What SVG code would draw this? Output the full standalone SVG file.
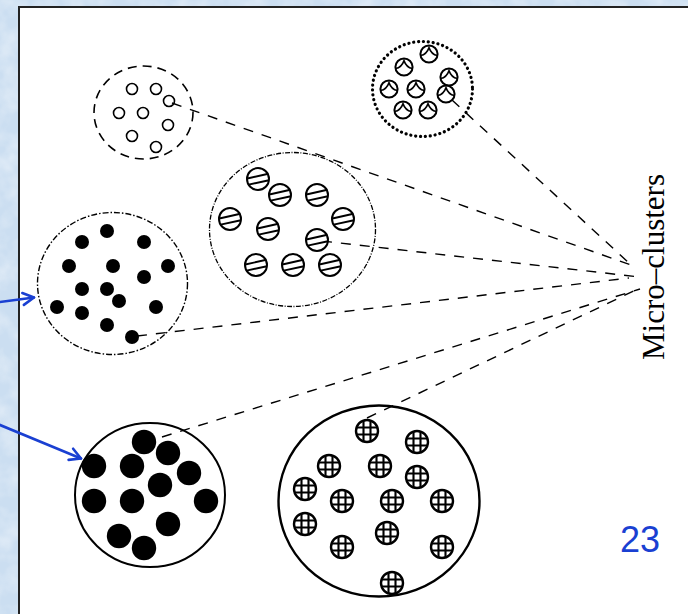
<svg xmlns="http://www.w3.org/2000/svg" width="688" height="614" viewBox="0 0 688 614">
  <style>
    .conn { fill: none; stroke: #000; stroke-width: 1.4; stroke-dasharray: 10 9; }
    .ptr { fill: none; stroke: #1a40d2; stroke-width: 2.6; stroke-linecap: round; }
    .hollow { fill: none; stroke: #000; stroke-width: 1.6; }
    .sym { fill: #fff; stroke: #000; stroke-width: 2; }
    .mark { fill: none; stroke: #000; stroke-width: 1.7; }
    .dot { fill: #000; }
    .label { font-family: "Liberation Serif", "Times New Roman", serif; font-size: 31px; fill: #000; }
    .page { font-family: "Liberation Sans", Arial, sans-serif; font-size: 36px; fill: #1a40d2; }
  </style>
  <defs>
    <filter id="mottle" x="0" y="0" width="100%" height="100%">
      <feTurbulence type="fractalNoise" baseFrequency="0.045" numOctaves="3" seed="7"/>
      <feColorMatrix type="matrix" values="0 0 0 0 1  0 0 0 0 1  0 0 0 0 1  1.6 0 0 0 -0.6"/>
    </filter>
    <marker id="vhead" markerUnits="userSpaceOnUse" markerWidth="18" markerHeight="18" refX="13" refY="9" orient="auto">
      <path d="M2,3 L13,9 L2,15" fill="none" stroke="#1a40d2" stroke-width="2.6" stroke-linecap="round" stroke-linejoin="round"/>
    </marker>
    <!-- member glyphs -->
    <circle id="ring" r="5.5" class="hollow"/>
    <g id="roof">
      <circle r="8.6" class="sym"/>
      <path d="M-8.3,1.5 Q-2.5,0.5 0,-6.3 Q2.5,0.5 8.3,1.5" class="mark"/>
    </g>
    <g id="hatch">
      <circle r="11" class="sym"/>
      <path d="M-10.6,-0.5 L10.4,-5.2 M-9.4,5.6 L10.9,1.2" class="mark" style="stroke-width:1.9"/>
    </g>
    <g id="grid">
      <circle r="11" class="sym" style="stroke-width:2.4"/>
      <path d="M-3.5,-10.4 V10.4 M3.5,-10.4 V10.4 M-10.4,-3.5 H10.4 M-10.4,3.5 H10.4" class="mark" style="stroke-width:2.1"/>
    </g>
  </defs>

  <!-- slide backdrop -->
  <rect x="0" y="0" width="688" height="614" fill="#cbdef1"/>
  <rect x="0" y="0" width="688" height="614" filter="url(#mottle)" opacity="0.5"/>
  <!-- figure panel -->
  <rect x="19" y="7" width="690" height="630" fill="#fff" stroke="#222" stroke-width="2"/>

  <!-- dashed links to the label -->
  <g id="connectors">
    <path class="conn" d="M172,103 L631,265"/>
    <path class="conn" d="M452,100 L629,263"/>
    <path class="conn" d="M322,241 L640,277"/>
    <path class="conn" d="M137,336 L629,278"/>
    <path class="conn" d="M162,437 L640,289"/>
    <path class="conn" d="M367,418 L640,288"/>
  </g>

  <g id="cluster-open">
    <ellipse cx="143.5" cy="112.5" rx="49.5" ry="46.5" fill="none" stroke="#000" stroke-width="1.6" stroke-dasharray="9 6"/>
    <use href="#ring" x="132" y="89"/>
    <use href="#ring" x="156" y="89"/>
    <use href="#ring" x="169" y="101"/>
    <use href="#ring" x="119" y="113"/>
    <use href="#ring" x="143" y="113"/>
    <use href="#ring" x="168" y="125"/>
    <use href="#ring" x="132" y="136"/>
    <use href="#ring" x="156" y="147"/>
  </g>

  <g id="cluster-roof">
    <ellipse cx="422.5" cy="89" rx="50" ry="47.5" fill="none" stroke="#000" stroke-width="3.2" stroke-linecap="round" stroke-dasharray="0.1 4.8"/>
    <use href="#roof" x="429" y="54"/>
    <use href="#roof" x="404" y="67"/>
    <use href="#roof" x="449" y="77"/>
    <use href="#roof" x="389" y="89"/>
    <use href="#roof" x="416" y="89"/>
    <use href="#roof" x="446" y="94"/>
    <use href="#roof" x="403" y="110"/>
    <use href="#roof" x="428" y="110"/>
  </g>

  <g id="cluster-hatched">
    <ellipse cx="292.5" cy="229.5" rx="83" ry="77" fill="none" stroke="#000" stroke-width="1.3" stroke-dasharray="5 1.5 1 1.5"/>
    <use href="#hatch" x="258" y="179"/>
    <use href="#hatch" x="280" y="195"/>
    <use href="#hatch" x="317" y="195"/>
    <use href="#hatch" x="230" y="219"/>
    <use href="#hatch" x="343" y="219"/>
    <use href="#hatch" x="268" y="229"/>
    <use href="#hatch" x="317" y="240"/>
    <use href="#hatch" x="256" y="265"/>
    <use href="#hatch" x="293" y="265"/>
    <use href="#hatch" x="330" y="265"/>
  </g>

  <g id="cluster-dots">
    <ellipse cx="112.5" cy="283.5" rx="75" ry="71" fill="none" stroke="#000" stroke-width="1.4" stroke-dasharray="6 2 1.5 2"/>
    <circle class="dot" cx="107" cy="231" r="7"/>
    <circle class="dot" cx="82" cy="242" r="7"/>
    <circle class="dot" cx="144" cy="242" r="7"/>
    <circle class="dot" cx="69" cy="266" r="7"/>
    <circle class="dot" cx="113" cy="266" r="7"/>
    <circle class="dot" cx="168" cy="266" r="7"/>
    <circle class="dot" cx="144" cy="277" r="7"/>
    <circle class="dot" cx="82" cy="289" r="7"/>
    <circle class="dot" cx="107" cy="289" r="7"/>
    <circle class="dot" cx="119" cy="301" r="7"/>
    <circle class="dot" cx="57" cy="307" r="7"/>
    <circle class="dot" cx="156" cy="307" r="7"/>
    <circle class="dot" cx="82" cy="313" r="7"/>
    <circle class="dot" cx="107" cy="325" r="7"/>
    <circle class="dot" cx="132" cy="337" r="7"/>
  </g>

  <g id="cluster-solid">
    <ellipse cx="150" cy="495" rx="75" ry="72" fill="none" stroke="#000" stroke-width="2"/>
    <circle class="dot" cx="144" cy="442" r="12.2"/>
    <circle class="dot" cx="168" cy="453" r="12.2"/>
    <circle class="dot" cx="94" cy="466" r="12.2"/>
    <circle class="dot" cx="132" cy="466" r="12.2"/>
    <circle class="dot" cx="189" cy="473" r="12.2"/>
    <circle class="dot" cx="160" cy="485" r="12.2"/>
    <circle class="dot" cx="94" cy="501" r="12.2"/>
    <circle class="dot" cx="132" cy="501" r="12.2"/>
    <circle class="dot" cx="206" cy="501" r="12.2"/>
    <circle class="dot" cx="168" cy="524" r="12.2"/>
    <circle class="dot" cx="119" cy="536" r="12.2"/>
    <circle class="dot" cx="144" cy="548" r="12.2"/>
  </g>

  <g id="cluster-grid">
    <ellipse cx="379" cy="501" rx="100.5" ry="95.5" fill="none" stroke="#000" stroke-width="2.4"/>
    <use href="#grid" x="367" y="431"/>
    <use href="#grid" x="417" y="442"/>
    <use href="#grid" x="329" y="466"/>
    <use href="#grid" x="380" y="466"/>
    <use href="#grid" x="417" y="477"/>
    <use href="#grid" x="305" y="489"/>
    <use href="#grid" x="342" y="501"/>
    <use href="#grid" x="392" y="501"/>
    <use href="#grid" x="442" y="501"/>
    <use href="#grid" x="305" y="524"/>
    <use href="#grid" x="387" y="533"/>
    <use href="#grid" x="342" y="547"/>
    <use href="#grid" x="442" y="547"/>
    <use href="#grid" x="392" y="583"/>
  </g>

  <g id="label">
    <text class="label" transform="translate(664,360) rotate(-90)">Micro–clusters</text>
  </g>

  <!-- blue pointers entering from the slide margin -->
  <g id="pointers">
    <path class="ptr" d="M-4,302.5 L34,297.5" marker-end="url(#vhead)"/>
    <path class="ptr" d="M-6,422.5 L81,458.5" marker-end="url(#vhead)"/>
  </g>

  <g id="page-number">
    <text class="page" x="620" y="552">23</text>
  </g>
</svg>
